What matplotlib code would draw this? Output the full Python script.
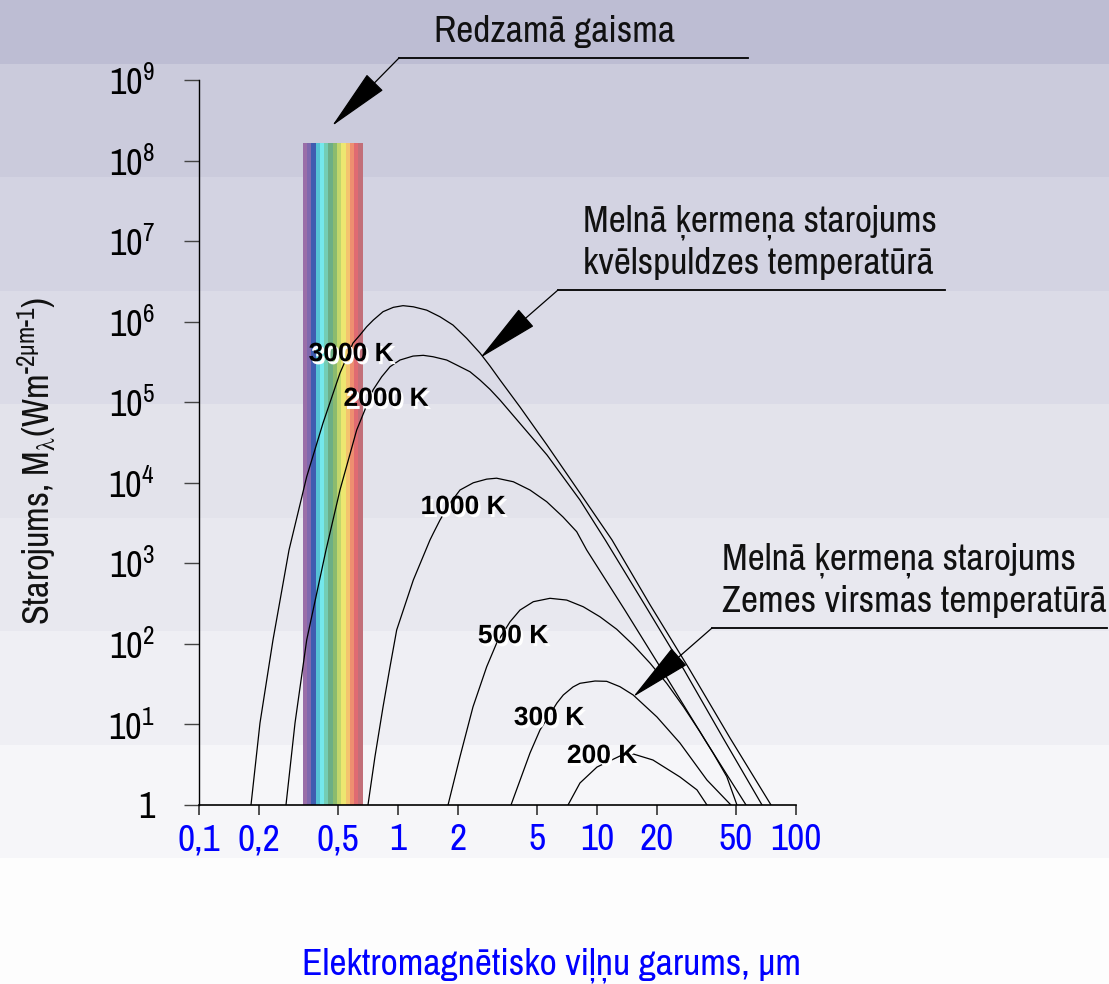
import numpy as np
import matplotlib.pyplot as plt
import matplotlib.patheffects as pe
from matplotlib import font_manager as fm
from matplotlib.patches import FancyArrowPatch

# pick a narrow sans face if one is installed
available = {f.name for f in fm.fontManager.ttflist}
narrow = next((n for n in ['Liberation Sans Narrow', 'Nimbus Sans Narrow', 'Arial Narrow',
                           'Archivo Narrow', 'Roboto Condensed', 'PT Sans Narrow',
                           'Pragati Narrow'] if n in available), 'Liberation Sans')

plt.rcParams['font.family'] = [narrow, 'Liberation Sans', 'DejaVu Sans']
plt.rcParams['mathtext.fontset'] = 'custom'
plt.rcParams['mathtext.rm'] = narrow
plt.rcParams['mathtext.it'] = narrow
plt.rcParams['mathtext.default'] = 'regular'

# Spectral exitance curves, wavelength in um and M in W m^-2 um^-1
wl_3000 = [0.1825, 0.2025, 0.2354, 0.2833, 0.3477, 0.420, 0.511, 0.594, 0.644, 0.696,
           0.7515, 0.841, 0.947, 1.06, 1.194, 1.394, 1.626, 1.889, 2.214, 2.583,
           2.90, 3.255, 4.103, 5.607, 8.21, 11.9, 18.5, 29.3, 46.6, 74.9]
M_3000 = [1, 10.4, 112, 1460, 11900, 55200, 230000, 543000, 683000, 865000,
          1.047e6, 1.33e6, 1.506e6, 1.58e6, 1.53e6, 1.39e6, 1.15e6, 908000, 621000, 408000,
          281000, 189000, 87200, 29400, 7460, 1950, 304, 47.4, 6.79, 1]

wl_2000 = [0.2736, 0.3037, 0.3477, 0.4347, 0.511, 0.620, 0.749, 0.828, 0.912, 1.023,
           1.19, 1.34, 1.50, 1.757, 1.97, 2.30, 2.58, 2.90, 3.26, 5.61,
           8.21, 11.0, 17.4, 27.4, 43.0, 67.5]
M_2000 = [1, 10.4, 112, 1460, 8130, 45200, 142000, 207000, 276000, 334000,
          374000, 382000, 367000, 334000, 290000, 239000, 189000, 144500, 106000, 22100,
          6110, 1950, 304, 47.4, 6.79, 1]

wl_1000 = [0.7065, 0.766, 0.841, 0.912, 0.985, 1.194, 1.448, 1.504, 1.626, 1.825,
           2.049, 2.39, 2.791, 3.13, 3.797, 4.606, 5.588, 6.75, 7.907, 8.877,
           13.8, 22.0, 34.9, 56.1]
M_1000 = [1, 3.98, 16.5, 52.1, 149, 621, 1950, 2360, 3450, 5560,
          8130, 10000, 11100, 11400, 10300, 8130, 5820, 3760, 2470, 1463,
          263, 41.1, 6.41, 1]

wl_500 = [1.784, 2.049, 2.381, 2.791, 3.13, 3.655, 4.103, 4.786, 5.804, 7.04,
          8.53, 10.35, 12.56, 15.22, 18.5, 22.4, 27.2, 32.9, 38.4, 44.9, 50.5]
M_500 = [1, 3.98, 16.5, 52.1, 102, 188, 263, 334, 368, 350,
         289, 217, 152, 96.8, 57.4, 32.4, 16.6, 8.13, 4.38, 2.25, 1]

wl_300 = [3.697, 4.606, 5.17, 6.295, 6.77, 7.575, 8.21, 9.77, 11.19, 13.05,
          15.2, 20.0, 26.1, 35.7, 47.1]
M_300 = [1, 4.42, 8.53, 18.5, 23.2, 29.2, 32.4, 34.6, 34.3, 29.4,
         23.2, 12.4, 5.89, 2.04, 1]

wl_200 = [7.15, 8.21, 10.0, 13.05, 15.2, 19.1, 26.1, 31.8, 35.7]
M_200 = [1, 1.875, 2.96, 4.06, 4.30, 3.62, 2.23, 1.54, 1]

curves = [(wl_3000, M_3000), (wl_2000, M_2000), (wl_1000, M_1000),
          (wl_500, M_500), (wl_300, M_300), (wl_200, M_200)]

# curve labels: text, wavelength, exitance
temp_labels = ['3000 K', '2000 K', '1000 K', '500 K', '300 K', '200 K']
label_wl = [0.581, 0.870, 2.121, 3.784, 5.74, 10.6]
label_M = [3.96e5, 1.10e5, 5000, 125, 12.0, 4.06]

# visible band
vis_lo, vis_hi, vis_top = 0.332, 0.665, 1.66e8
vis_colors = ['#9a6ea8', '#7f68ae', '#3f5cb0', '#55c3d6', '#74e8ec', '#74cdb4',
              '#6cae86', '#8cbb6e', '#c2d66c', '#ede770', '#f4c46e', '#ee8f70',
              '#e06b72', '#c26f79']

xticks = [0.1, 0.2, 0.5, 1, 2, 5, 10, 20, 50, 100]
xtick_labels = ['0,1', '0,2', '0,5', '1', '2', '5', '10', '20', '50', '100']
yticks = [1, 1e1, 1e2, 1e3, 1e4, 1e5, 1e6, 1e7, 1e8, 1e9]
ytick_labels = ['1'] + ['$10^{%d}$' % k for k in range(1, 10)]

# background stripes (pixel rows from top) and their colours
band_edges = [0, 64, 177, 291, 404, 518, 631, 745, 858, 984]
band_colors = ['#bdbdd3', '#cbcbdc', '#d3d3e2', '#dbdbe7', '#e3e3eb',
               '#e8e8ef', '#efeff4', '#f6f6f9', '#fdfdfd']

W, H = 1109, 984
fig = plt.figure(figsize=(W / 100, H / 100), dpi=100)

bg = fig.add_axes([0, 0, 1, 1], zorder=0)
bg.set_xlim(0, W)
bg.set_ylim(H, 0)
bg.axis('off')
for top, bot, c in zip(band_edges[:-1], band_edges[1:], band_colors):
    bg.axhspan(top, bot, color=c, lw=0)

ax = fig.add_axes([199 / W, 1 - 805 / H, (796 - 199) / W, (805 - 80) / H], zorder=1)
ax.patch.set_alpha(0)
ax.set_xscale('log')
ax.set_yscale('log')
ax.set_xlim(0.1, 100)
ax.set_ylim(1, 1e9)

# spectrum stripes
edges = np.geomspace(vis_lo, vis_hi, len(vis_colors) + 1)
for a, b, c in zip(edges[:-1], edges[1:], vis_colors):
    ax.fill_between([a, b], 1, vis_top, color=c, lw=0, zorder=1)

for wl, M in curves:
    ax.plot(wl, M, color='black', lw=0.9, zorder=2, solid_joinstyle='round')

for t, x, y in zip(temp_labels, label_wl, label_M):
    ax.text(x, y, t, ha='center', va='center', fontsize=19, fontweight='bold',
            family=['Liberation Sans', 'DejaVu Sans'], zorder=3,
            path_effects=[pe.withSimplePatchShadow(offset=(1.8, -2.2),
                                                   shadow_rgbFace='white', alpha=1.0)])

ax.spines['top'].set_visible(False)
ax.spines['right'].set_visible(False)
ax.spines['left'].set_linewidth(1.0)
ax.spines['bottom'].set_linewidth(1.2)
ax.minorticks_off()
ax.set_xticks(xticks)
ax.set_xticklabels(xtick_labels)
ax.set_yticks(yticks)
ax.set_yticklabels(ytick_labels)
ax.tick_params(axis='x', direction='out', length=7, width=1.2, pad=6,
               labelsize=27, labelcolor='#0000ff', color='#333333')
ax.tick_params(axis='y', direction='out', length=11, width=1.0, pad=21,
               labelsize=26, color='#444444')

# overlay for captions and pointers, in pixel units
ov = fig.add_axes([0, 0, 1, 1], zorder=3)
ov.set_xlim(0, W)
ov.set_ylim(H, 0)
ov.axis('off')

txt = dict(fontsize=27, color='#111111')
ov.text(434, 42, 'Redzamā gaisma', ha='left', va='baseline', **txt)
ov.text(583, 232, 'Melnā ķermeņa starojums', ha='left', va='baseline', **txt)
ov.text(583, 274, 'kvēlspuldzes temperatūrā', ha='left', va='baseline', **txt)
ov.text(722, 570, 'Melnā ķermeņa starojums', ha='left', va='baseline', **txt)
ov.text(722, 612, 'Zemes virsmas temperatūrā', ha='left', va='baseline', **txt)

pointers = [((748, 58), (399, 58), (332, 126)),
            ((945, 290), (558, 290), (480, 358)),
            ((1107, 628), (712, 628), (633, 697))]
for (x0, y0), (x1, y1), (x2, y2) in pointers:
    ov.plot([x0, x1], [y0, y1], color='black', lw=1.3)
    ov.add_patch(FancyArrowPatch((x1, y1), (x2, y2),
                                 arrowstyle='-|>,head_length=41,head_width=7.5',
                                 mutation_scale=1, shrinkA=0, shrinkB=0,
                                 color='black', lw=0.9))

ov.text(37, 461, r'Starojums, M$_{λ}$(Wm$^{\text{-2μm-1}}$)', rotation=90,
        ha='center', va='center', fontsize=26, color='#111111')
ov.text(551, 965, 'Elektromagnētisko viļņu garums, µm', ha='center', va='center',
        fontsize=27, color='#0000ff')

fig.savefig('out.png', dpi=100)
